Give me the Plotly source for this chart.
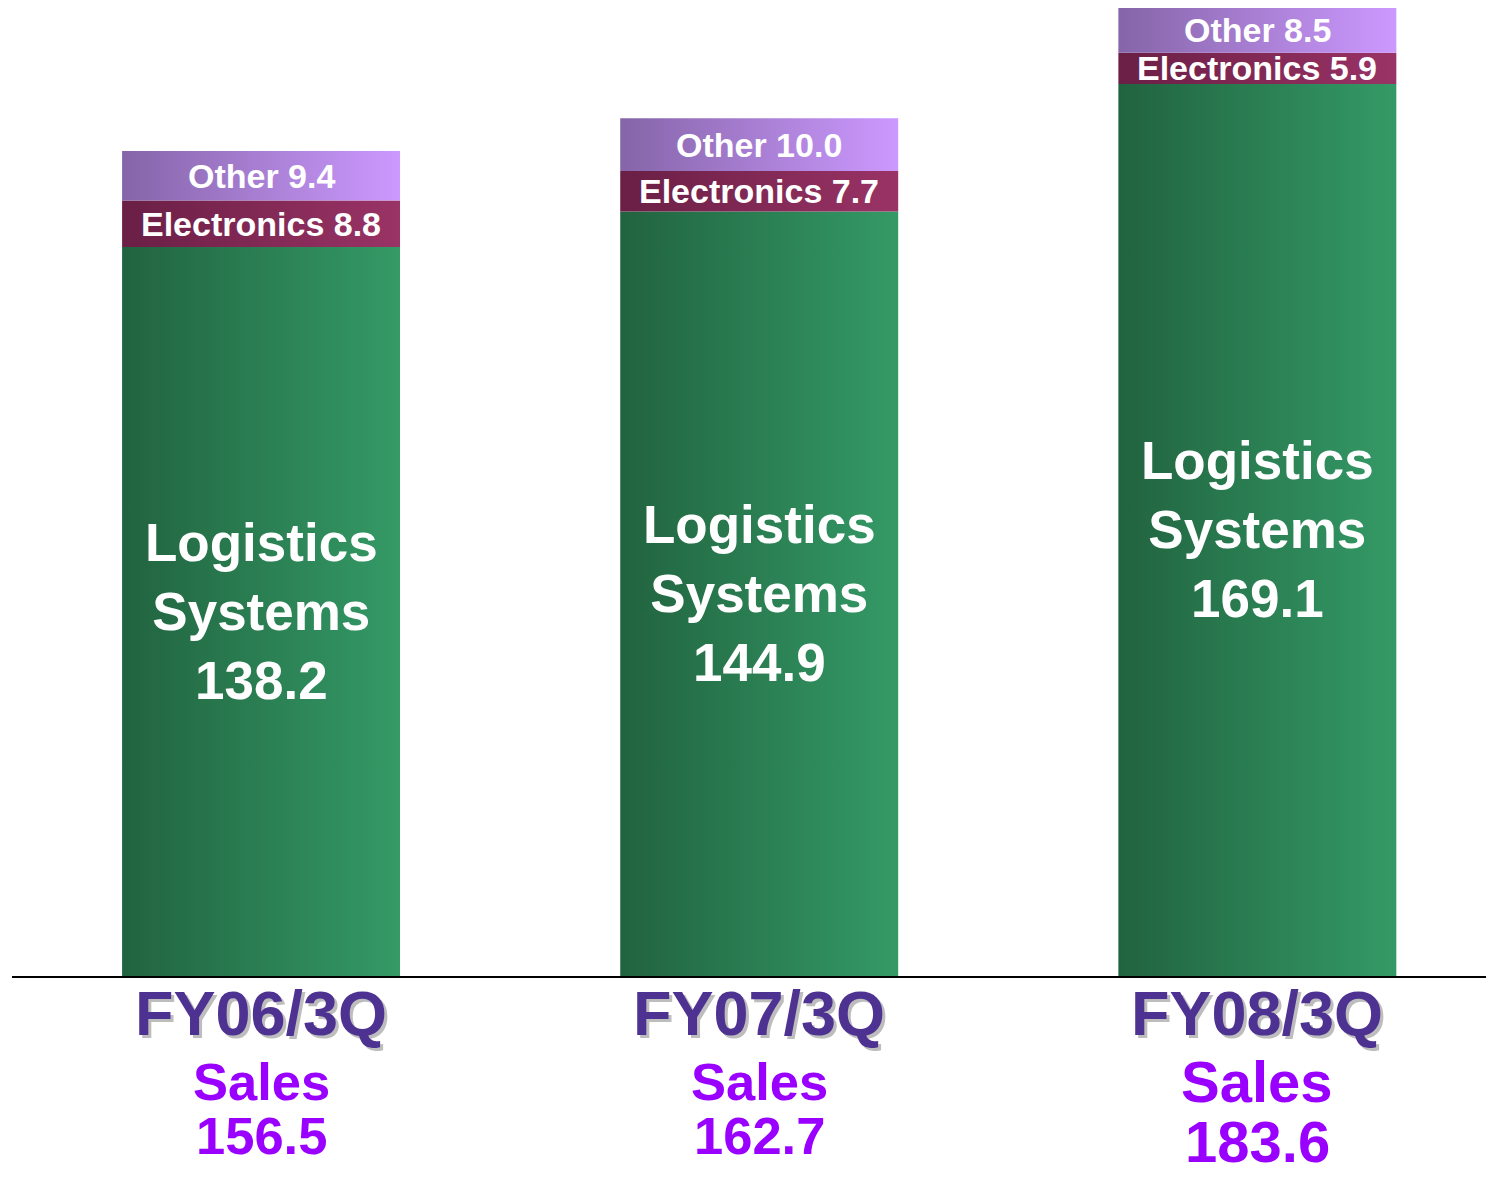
import plotly.graph_objects as go

# ---- data ----
categories = ["FY06/3Q", "FY07/3Q", "FY08/3Q"]
logistics = [138.2, 144.9, 169.1]
electronics = [8.8, 7.7, 5.9]
other = [9.4, 10.0, 8.5]
sales = [156.5, 162.7, 183.6]

FONT = "Liberation Sans, Arial, sans-serif"
BAR_W = 0.558

segments = [
    ("Logistics", logistics, ["#21633F", "#349A66"], 53),
    ("Electronics", electronics, ["#6A1F45", "#9A3366"], 34),
    ("Other", other, ["#8565A8", "#CC99FF"], 34),
]

fig = go.Figure()
annotations = []
base = [0.0] * len(categories)
for name, vals, cols, fsize in segments:
    for i, v in enumerate(vals):
        x0, x1 = i - BAR_W / 2, i + BAR_W / 2
        y0, y1 = base[i], base[i] + v
        fig.add_trace(go.Scatter(
            x=[x0, x1, x1, x0, x0], y=[y0, y0, y1, y1, y0],
            fill="toself", mode="lines", line=dict(width=0),
            fillcolor=cols[1],
            fillgradient=dict(type="horizontal",
                              colorscale=[[0, cols[0]], [1, cols[1]]]),
            showlegend=False, hoverinfo="skip"))
        if name == "Logistics":
            txt = f"Logistics<br>Systems<br>{v:.1f}"
        else:
            txt = f"{name} {v:.1f}"
        annotations.append(dict(
            x=i, y=(y0 + y1) / 2, xref="x", yref="y", text=txt,
            showarrow=False, xanchor="center", yanchor="middle",
            font=dict(family=FONT, size=fsize, color="white", weight="bold")))
    base = [b + v for b, v in zip(base, vals)]

# category labels below the axis
for i, (cat, s) in enumerate(zip(categories, sales)):
    big = i == len(categories) - 1
    fy_off = 37
    sales_off = 105 if big else 105.5
    val_off = 165 if big else 159
    ssize = 58 if big else 52.5
    annotations.append(dict(
        x=i, y=0, xref="x", yref="paper", text=cat, showarrow=False,
        xanchor="center", yanchor="middle", yshift=-fy_off,
        font=dict(family=FONT, size=63, color="#4E3292", weight="bold",
                  shadow="3px 3px 0px #BDBDBD")))
    annotations.append(dict(
        x=i, y=0, xref="x", yref="paper", text="Sales", showarrow=False,
        xanchor="center", yanchor="middle", yshift=-sales_off,
        font=dict(family=FONT, size=ssize, color="#9900FF", weight="bold")))
    annotations.append(dict(
        x=i, y=0, xref="x", yref="paper", text=f"{s:.1f}", showarrow=False,
        xanchor="center", yanchor="middle", yshift=-val_off,
        font=dict(family=FONT, size=ssize, color="#9900FF", weight="bold")))

fig.update_layout(
    width=1486, height=1177,
    margin=dict(l=12, r=0, t=0, b=201, pad=0),
    paper_bgcolor="white", plot_bgcolor="white",
    showlegend=False,
    annotations=annotations,
    xaxis=dict(range=[-0.5, 2.459], showticklabels=False, ticks="",
               showgrid=False, zeroline=False, showline=True,
               linecolor="black", linewidth=2, fixedrange=True),
    yaxis=dict(range=[0, 185], visible=False, showgrid=False,
               zeroline=False, fixedrange=True),
)

fig.write_html(
    "out.html",
    config={"displayModeBar": False},
    post_script="document.body.style.margin='0';document.body.style.padding='0';",
)
